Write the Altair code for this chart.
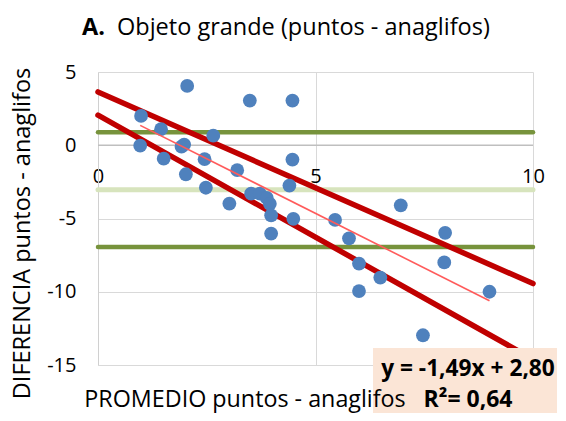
import altair as alt
import pandas as pd

# ---- data ----
x_vals = [0.99, 0.97, 1.45, 1.51, 1.92, 1.98, 2.05, 2.02, 2.45, 2.48, 2.65,
          3.02, 3.20, 3.49, 3.52, 3.72, 3.88, 3.95, 3.98, 3.98, 4.40, 4.47,
          4.47, 4.49, 5.45, 5.77, 6.00, 6.00, 6.49, 6.96, 7.47, 7.98, 7.96, 9.00]
y_vals = [2.00, -0.03, 1.10, -0.92, -0.10, 0.05, 4.05, -1.98, -0.95, -2.90, 0.65,
          -3.98, -1.70, 3.05, -3.30, -3.30, -3.60, -4.00, -4.78, -6.03, -2.75, 3.05,
          -0.98, -5.02, -5.10, -6.35, -8.08, -9.95, -9.03, -4.10, -12.97, -5.98, -8.00, -10.00]

trend_slope = -1.49
trend_intercept = 2.80
trend_x = [0.97, 9.00]

band_x = [0, 10, 0, 10]
band_y = [3.64, -9.44, 2.05, -14.60]
band_id = ["sup", "sup", "inf", "inf"]

dark_green_levels = [0.89, -6.95]
light_green_levels = [-3.03]
zero_level = [0]

x_ticks = [0, 5, 10]
y_ticks = [5, 0, -5, -10, -15]

title_prefix = "A."
title_text = "Objeto grande (puntos - anaglifos)"
x_title = "PROMEDIO puntos - anaglifos"
y_title = "DIFERENCIA puntos - anaglifos"
eq_lines = ["y = -1,49x + 2,80", "R²= 0,64"]

# ---- layout ----
W, H = 435, 293
FONT = "Open Sans"
LBL = "datum.value < 0 ? '-' + abs(datum.value) : '' + datum.value"

xscale = alt.Scale(domain=[0, 10], nice=False, zero=False)
yscale = alt.Scale(domain=[-15, 5], nice=False, zero=False)

xaxis = alt.Axis(values=x_ticks, title=None, grid=True, gridColor="#D9D9D9",
                 domain=False, ticks=False, tickSize=0, labelPadding=0,
                 labelBaseline="middle", offset=-189, labelFlush=False,
                 labelOverlap=False, labelExpr=LBL, labelFont=FONT, labelFontSize=20,
                 labelColor="black")
yaxis = alt.Axis(values=y_ticks, title=y_title, grid=True, gridColor="#D9D9D9",
                 domain=True, domainColor="#D0D0D0", ticks=False, labelPadding=22,
                 labelFlush=False, labelOverlap=False, labelExpr=LBL, labelFont=FONT,
                 labelFontSize=20, labelColor="black", titleFont=FONT,
                 titleFontSize=23.5, titleFontWeight="normal", titleColor="black",
                 titleX=-69, titleY=161, titleAngle=270, titleAlign="center",
                 titleBaseline="alphabetic")

X = lambda f="x": alt.X(f"{f}:Q", scale=xscale, axis=xaxis)
Y = lambda f="y": alt.Y(f"{f}:Q", scale=yscale, axis=yaxis)

pts = pd.DataFrame({"x": x_vals, "y": y_vals})
trend = pd.DataFrame({"x": trend_x,
                      "y": [trend_intercept + trend_slope * v for v in trend_x]})
band = pd.DataFrame({"x": band_x, "y": band_y, "id": band_id})

zero_rule = alt.Chart(pd.DataFrame({"y": zero_level})).mark_rule(
    color="#BFBFBF", strokeWidth=1.5).encode(y=Y())
light_rule = alt.Chart(pd.DataFrame({"y": light_green_levels})).mark_rule(
    color="#D7E4BD", strokeWidth=5, strokeCap="round").encode(y=Y())
dark_rule = alt.Chart(pd.DataFrame({"y": dark_green_levels})).mark_rule(
    color="#77933C", strokeWidth=4.5, strokeCap="round").encode(y=Y())
band_lines = alt.Chart(band).mark_line(
    color="#C00000", strokeWidth=5.5, strokeCap="round").encode(
    x=X(), y=Y(), detail="id:N")
points = alt.Chart(pts).mark_circle(size=190, opacity=1, color="#4F81BD").encode(
    x=X(), y=Y())
trend_line = alt.Chart(trend).mark_line(color="#FF5B5B", strokeWidth=1.6).encode(
    x=X(), y=Y())

t_prefix = alt.Chart(pd.DataFrame({"t": [title_prefix]})).mark_text(
    font=FONT, fontSize=23.5, fontWeight="bold", align="left", baseline="alphabetic",
    color="black").encode(x=alt.value(-16), y=alt.value(-37), text="t:N")
t_main = alt.Chart(pd.DataFrame({"t": [title_text]})).mark_text(
    font=FONT, fontSize=23.5, align="left", baseline="alphabetic",
    color="black").encode(x=alt.value(19), y=alt.value(-37), text="t:N")

box = alt.Chart(pd.DataFrame({"t": [""]})).mark_rect(color="#FBE5D6").encode(
    x=alt.value(275), x2=alt.value(470), y=alt.value(276), y2=alt.value(350))
x_title_mark = alt.Chart(pd.DataFrame({"t": [x_title]})).mark_text(
    font=FONT, fontSize=23.3, align="center", baseline="alphabetic",
    color="black").encode(x=alt.value(147), y=alt.value(334.5), text="t:N")
eq1 = alt.Chart(pd.DataFrame({"t": [eq_lines[0]]})).mark_text(
    font=FONT, fontSize=22.7, fontWeight="bold", align="center", baseline="alphabetic",
    color="black").encode(x=alt.value(370), y=alt.value(304), text="t:N")
eq2 = alt.Chart(pd.DataFrame({"t": [eq_lines[1]]})).mark_text(
    font=FONT, fontSize=23, fontWeight="bold", align="center", baseline="alphabetic",
    color="black").encode(x=alt.value(370), y=alt.value(334.5), text="t:N")

chart = alt.layer(
    zero_rule, light_rule, dark_rule, band_lines, points, trend_line,
    box, x_title_mark, eq1, eq2, t_prefix, t_main
).properties(
    width=W, height=H,
    autosize=alt.AutoSizeParams(type="none"),
    padding={"left": 90, "top": 64, "right": 24, "bottom": 48},
    background="white",
).configure_view(stroke=None)

chart.save("out.html", embed_options={"renderer": "svg", "actions": False})
